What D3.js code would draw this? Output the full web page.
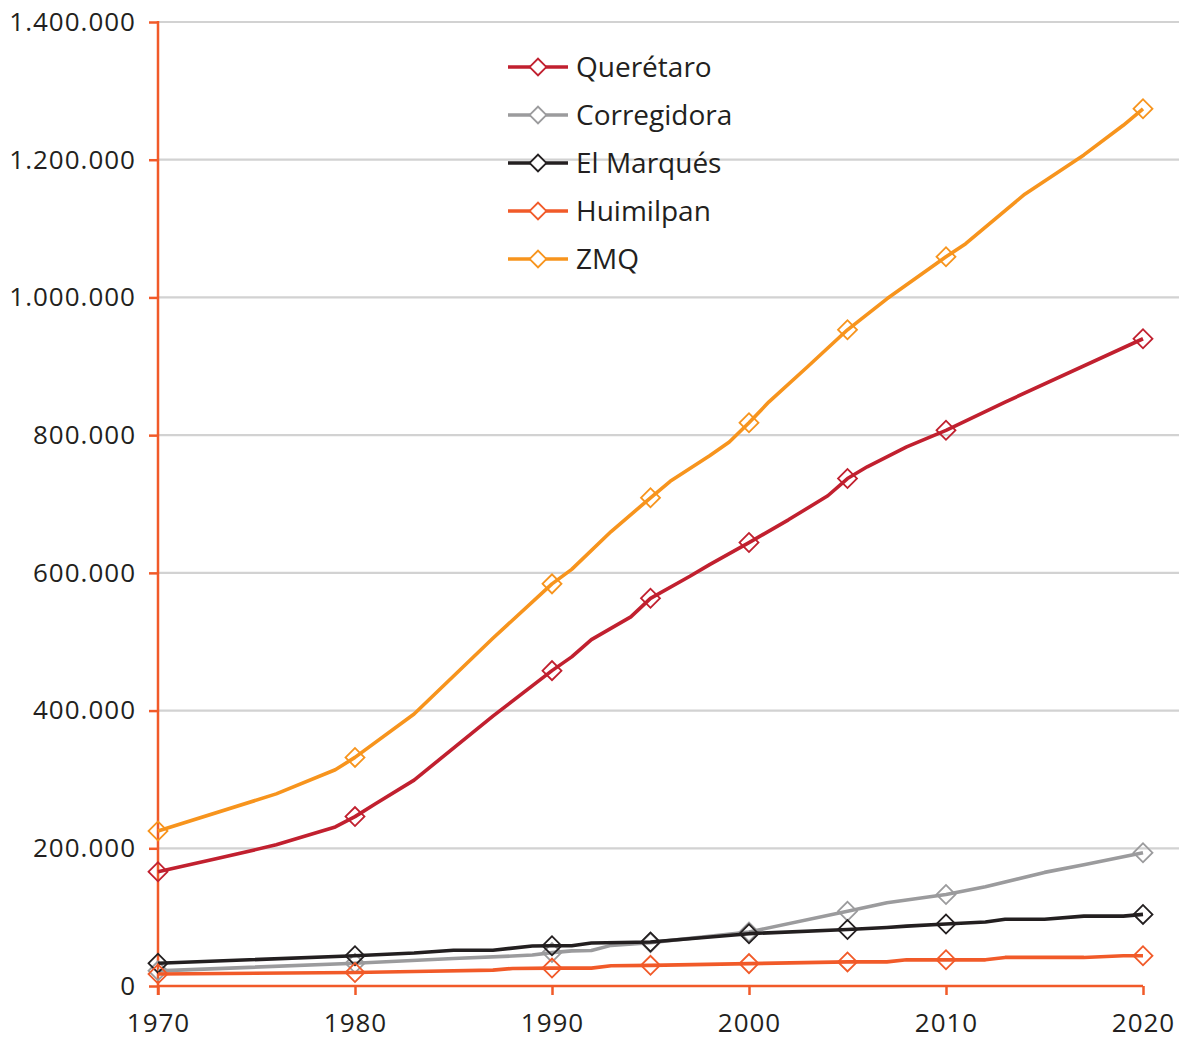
<!DOCTYPE html>
<html>
<head>
<meta charset="utf-8">
<script src="https://cdn.jsdelivr.net/npm/d3@7"></script>
<style>
  html, body { margin: 0; padding: 0; background: #ffffff; }
  svg { display: block; }
  text { font-family: "Open Sans", "Noto Sans", sans-serif; fill: #231f20; }
</style>
</head>
<body>
<svg id="chart" width="1185" height="1040"></svg>
<script>
// ---------- DATA ----------
const seriesNames = ["Querétaro", "Corregidora", "El Marqués", "Huimilpan", "ZMQ"];
const seriesColors = ["#c1202f", "#9b9b9d", "#231f20", "#f15a29", "#f7941d"];
const markerYears = [1970, 1980, 1990, 1995, 2000, 2005, 2010, 2020];

const queretaroYears  = [1970, 1973, 1976, 1979, 1980, 1981, 1983, 1987, 1990, 1991, 1992, 1994, 1995, 1997, 1998, 2000, 2002, 2004, 2005, 2006, 2008, 2010, 2013, 2020];
const queretaroValues = [166000, 185000, 205000, 231000, 246000, 264000, 299000, 392000, 458000, 478000, 503000, 536000, 563000, 595000, 612000, 644000, 677000, 712000, 737000, 754000, 783000, 807000, 848000, 940000];

const corregidoraYears  = [1970, 1980, 1985, 1988, 1989, 1990, 1991, 1992, 1993, 1995, 2000, 2005, 2007, 2009, 2010, 2012, 2015, 2017, 2020];
const corregidoraValues = [22000, 33000, 40000, 43500, 45000, 48500, 51000, 51500, 59000, 63000, 78500, 108500, 121000, 129000, 133000, 144000, 165000, 176000, 193500];

const marquesYears  = [1970, 1980, 1983, 1985, 1987, 1989, 1990, 1991, 1992, 1995, 2000, 2005, 2007, 2008, 2010, 2012, 2013, 2015, 2017, 2019, 2020];
const marquesValues = [33000, 44000, 48000, 52000, 52000, 58000, 58500, 58500, 62500, 64000, 76000, 82000, 85000, 87000, 90000, 93000, 97000, 97000, 101500, 101500, 104000];

const huimilpanYears  = [1970, 1980, 1983, 1987, 1988, 1990, 1992, 1993, 1995, 2000, 2005, 2007, 2008, 2010, 2012, 2013, 2017, 2019, 2020];
const huimilpanValues = [17500, 19500, 21000, 23000, 25500, 26000, 26000, 29500, 30000, 32500, 35000, 35000, 38000, 38000, 38000, 41500, 41500, 44000, 44000];

const zmqYears  = [1970, 1976, 1979, 1980, 1983, 1987, 1990, 1991, 1993, 1995, 1996, 1998, 1999, 2000, 2001, 2003, 2005, 2007, 2010, 2011, 2014, 2017, 2019, 2020];
const zmqValues = [225000, 279000, 314000, 332000, 395000, 505000, 584000, 605000, 660000, 709000, 733000, 770000, 790000, 818000, 848000, 900000, 953000, 998000, 1059000, 1078000, 1150000, 1207000, 1250000, 1274000];

const yTickValues = [0, 200000, 400000, 600000, 800000, 1000000, 1200000, 1400000];
const xTickValues = [1970, 1980, 1990, 2000, 2010, 2020];

const seriesYears  = [queretaroYears, corregidoraYears, marquesYears, huimilpanYears, zmqYears];
const seriesValues = [queretaroValues, corregidoraValues, marquesValues, huimilpanValues, zmqValues];

// ---------- CHART ----------
const svg = d3.select("#chart");
const axisColor = "#f15a29";
const gridColor = "#d2d2d2";

const x = d3.scaleLinear().domain([1970, 2020]).range([158, 1143]);
const y = d3.scaleLinear().domain([0, 1400000]).range([986, 22]);

const locale = d3.formatLocale({ decimal: ",", thousands: ".", grouping: [3], currency: ["", ""] });
const fmt = locale.format(",d");

// gridlines
svg.append("g")
  .selectAll("line")
  .data(yTickValues.filter(d => d > 0))
  .join("line")
  .attr("x1", x(1970)).attr("x2", 1179)
  .attr("y1", d => y(d)).attr("y2", d => y(d))
  .attr("stroke", gridColor).attr("stroke-width", 2.2);

// y axis
const yAxis = svg.append("g")
  .attr("transform", `translate(${x(1970)},0)`)
  .call(d3.axisLeft(y).tickValues(yTickValues).tickFormat(fmt).tickSize(9).tickPadding(13));
yAxis.select(".domain").remove();
yAxis.selectAll(".tick line").attr("stroke", axisColor).attr("stroke-width", 2.5);
yAxis.selectAll(".tick text").style("font-size", "26px").attr("fill", "#231f20")
  .style("letter-spacing", "1px")
  .style("font-family", '"Open Sans", sans-serif');
yAxis.append("line")
  .attr("x1", 0).attr("x2", 0).attr("y1", y(1400000) - 1).attr("y2", y(0) + 9)
  .attr("stroke", axisColor).attr("stroke-width", 2.5);

// x axis
const xAxis = svg.append("g")
  .attr("transform", `translate(0,${y(0)})`)
  .call(d3.axisBottom(x).tickValues(xTickValues).tickFormat(d3.format("d")).tickSize(9).tickPadding(19));
xAxis.select(".domain").remove();
xAxis.selectAll(".tick line").attr("stroke", axisColor).attr("stroke-width", 2.5);
xAxis.selectAll(".tick text").style("font-size", "26px").attr("fill", "#231f20")
  .style("letter-spacing", "1px")
  .style("font-family", '"Open Sans", sans-serif');
xAxis.append("line")
  .attr("x1", x(1970)).attr("x2", x(2020)).attr("y1", 0).attr("y2", 0)
  .attr("stroke", axisColor).attr("stroke-width", 2.5);

// series
const line = d3.line().x(d => x(d[0])).y(d => y(d[1]));
const diamond = d3.symbol().type(d3.symbolSquare).size(180);

seriesNames.forEach((name, i) => {
  const pts = seriesYears[i].map((yr, j) => [yr, seriesValues[i][j]]);
  const g = svg.append("g");
  g.append("path")
    .attr("d", line(pts))
    .attr("fill", "none")
    .attr("stroke", seriesColors[i])
    .attr("stroke-width", 3.6)
    .attr("stroke-linejoin", "round");
  const mk = pts.filter(p => markerYears.includes(p[0]));
  g.selectAll("path.mk")
    .data(mk)
    .join("path")
    .attr("class", "mk")
    .attr("d", diamond)
    .attr("transform", d => `translate(${x(d[0])},${y(d[1])}) rotate(45)`)
    .attr("fill", "none")
    .attr("stroke", seriesColors[i])
    .attr("stroke-width", 1.8);
});

// legend
const legend = svg.append("g");
seriesNames.forEach((name, i) => {
  const ly = 67 + i * 48;
  legend.append("line")
    .attr("x1", 508).attr("x2", 568).attr("y1", ly).attr("y2", ly)
    .attr("stroke", seriesColors[i]).attr("stroke-width", 3.6);
  legend.append("path")
    .attr("d", d3.symbol().type(d3.symbolSquare).size(140)())
    .attr("transform", `translate(538,${ly}) rotate(45)`)
    .attr("fill", "#ffffff")
    .attr("stroke", seriesColors[i]).attr("stroke-width", 1.8);
  legend.append("text")
    .attr("x", 576).attr("y", ly)
    .attr("dy", "0.35em")
    .style("font-size", "28px")
    .text(name);
});
</script>
</body>
</html>
